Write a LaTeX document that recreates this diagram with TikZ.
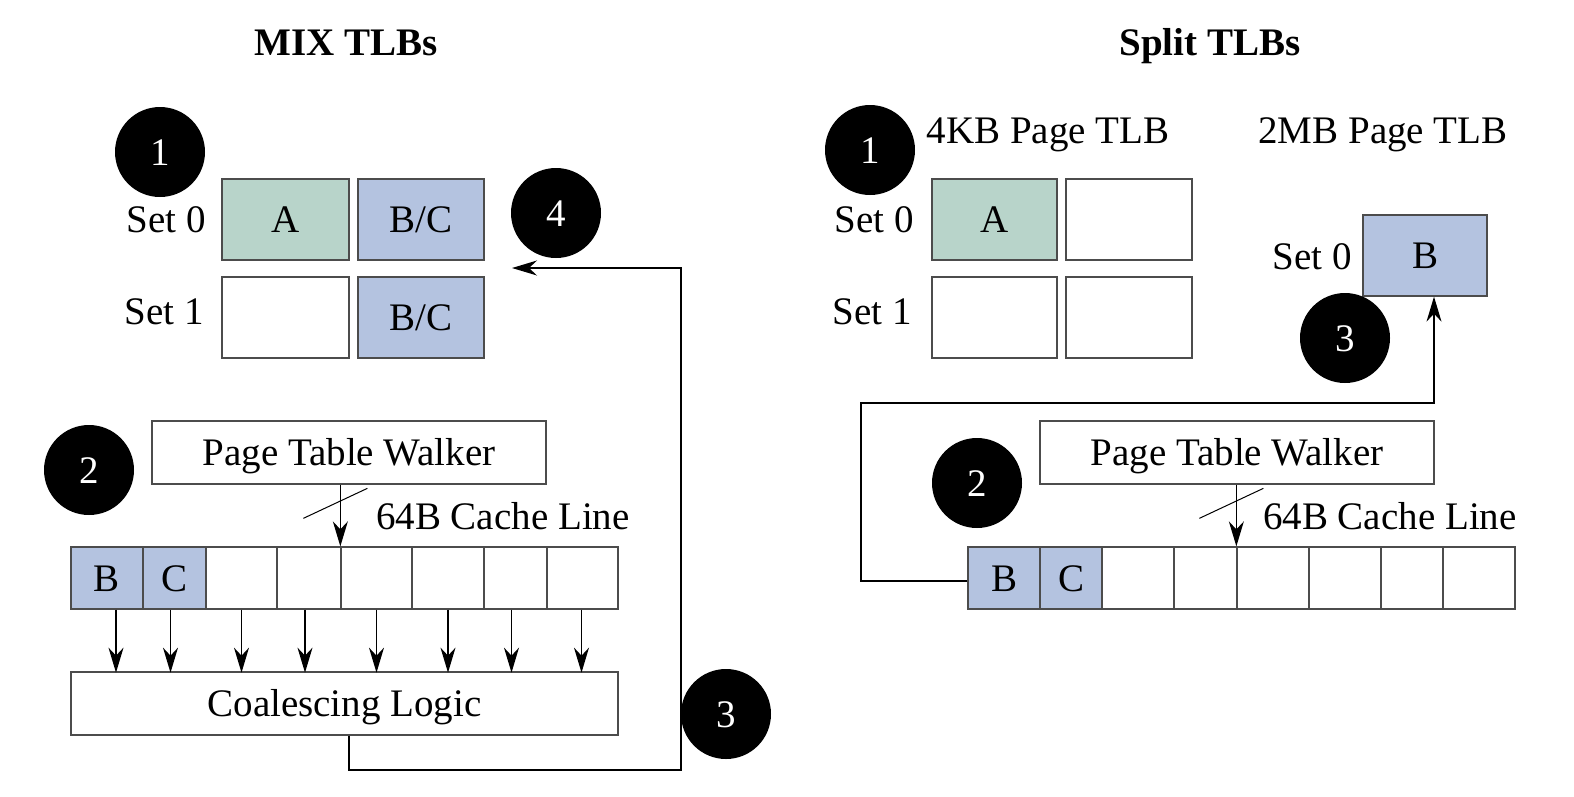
\documentclass[tikz,border=0pt]{standalone}
\usepackage{fontspec}
\setmainfont{Liberation Serif}
\usetikzlibrary{arrows.meta,calc}
\definecolor{tlbgreen}{RGB}{184,212,202}
\definecolor{tlbblue}{RGB}{180,195,224}
\begin{document}
\begin{tikzpicture}[x=1pt,y=-1pt,
  font=\fontsize{39}{44}\selectfont,
  every node/.append style={text height=26pt, text depth=0pt},
  tlb/.style={draw=black!70, line width=1.3pt, minimum height=81pt, inner sep=0pt},
  cellc/.style={draw=black!70, line width=1.3pt, minimum height=62pt, inner sep=0pt},
  wide/.style={draw=black!70, line width=1.3pt, minimum height=63pt, inner sep=0pt},
  num/.style={circle, fill=black, minimum size=90pt, inner sep=0pt, text=white},
  lbl/.style={inner sep=0pt},
  ttl/.style={inner sep=0pt, font=\fontsize{39}{44}\selectfont\bfseries},
  arr/.style={-{Stealth[length=25pt,width=15pt,inset=8pt]}, line width=1.3pt, draw=black},
  slash/.style={line width=1pt, draw=black}]
\useasboundingbox (0,0) rectangle (1574,796);

% ---------- left: MIX TLBs ----------
\node[ttl] (ltitle) at (346,42) {MIX TLBs};
\node[num] (l1) at (160,152) {1};
\node[lbl, anchor=east] (ls0) at (206,219) {Set 0};
\node[lbl, anchor=east] (ls1) at (204,311) {Set 1};
\node[tlb, fill=tlbgreen, minimum width=127pt] (lA) at (285.5,219.5) {A};
\node[tlb, fill=tlbblue, minimum width=126pt] (lBC0) at (421,219.5) {B/C};
\node[tlb, fill=white, minimum width=127pt] (lE1) at (285.5,317.5) {};
\node[tlb, fill=tlbblue, minimum width=126pt] (lBC1) at (421,317.5) {B/C};
\node[num] (l4) at (556,213) {4};

\node[num] (l2) at (89,470) {2};
\node[wide, minimum width=394pt] (lptw) at (349,452.5) {Page Table Walker};
\node[lbl, anchor=west] (lcl) at (376,516) {64B Cache Line};

\node[cellc, fill=tlbblue, minimum width=72pt] (lc1) at (107,578) {B};
\node[cellc, fill=tlbblue, minimum width=63pt] (lc2) at (174.5,578) {C};
\node[cellc, minimum width=71pt] (lc3) at (241.5,578) {};
\node[cellc, minimum width=64pt] (lc4) at (309,578) {};
\node[cellc, minimum width=71pt] (lc5) at (376.5,578) {};
\node[cellc, minimum width=72pt] (lc6) at (448,578) {};
\node[cellc, minimum width=63pt] (lc7) at (515.5,578) {};
\node[cellc, minimum width=71pt] (lc8) at (582.5,578) {};

\node[wide, minimum width=547pt] (lcoal) at (344.5,703.5) {Coalescing Logic};
\node[num] (l3) at (726,714) {3};

\draw[arr] (lptw.south -| lc5.north west) -- (lc5.north west);
\draw[slash] ($(lc5.north west)+(-37,-28)$) -- ($(lc5.north west)+(27,-58)$);
\foreach \n/\d in {1/9,2/-4,3/0,4/-4,5/0,6/0,7/-4,8/-1}
  \draw[arr] ([xshift=\d pt]lc\n.south) -- ++(0,63);

\coordinate (lx) at (349,0);
\coordinate (lcorner) at (681,770);
\coordinate (ltip) at (512,268);
\draw[arr] (lcoal.south -| lx) |- (lcorner) |- (ltip);

% ---------- right: Split TLBs ----------
\node[ttl] (rtitle) at (1210,42) {Split TLBs};
\node[num] (r1) at (870,150) {1};
\node[lbl] (r4kb) at (1048,130) {4KB Page TLB};
\node[lbl] (r2mb) at (1383,130) {2MB Page TLB};
\node[lbl, anchor=east] (rs0) at (914,219) {Set 0};
\node[lbl, anchor=east] (rs1) at (912,311) {Set 1};
\node[tlb, fill=tlbgreen, minimum width=125pt] (rA) at (994.5,219.5) {A};
\node[tlb, fill=white, minimum width=126pt] (rE0) at (1129,219.5) {};
\node[tlb, fill=white, minimum width=125pt] (rE10) at (994.5,317.5) {};
\node[tlb, fill=white, minimum width=126pt] (rE11) at (1129,317.5) {};
\node[lbl, anchor=east] (rs2) at (1352,256) {Set 0};
\node[tlb, fill=tlbblue, minimum width=124pt] (rB) at (1425,255.5) {B};
\node[num] (r3) at (1345,338) {3};

\node[num] (r2) at (977,483) {2};
\node[wide, minimum width=394pt] (rptw) at (1237,452.5) {Page Table Walker};
\node[lbl, anchor=west] (rcl) at (1263,516) {64B Cache Line};

\node[cellc, fill=tlbblue, minimum width=72pt] (rc1) at (1004,578) {B};
\node[cellc, fill=tlbblue, minimum width=62pt] (rc2) at (1071,578) {C};
\node[cellc, minimum width=72pt] (rc3) at (1138,578) {};
\node[cellc, minimum width=63pt] (rc4) at (1205.5,578) {};
\node[cellc, minimum width=72pt] (rc5) at (1273,578) {};
\node[cellc, minimum width=72pt] (rc6) at (1345,578) {};
\node[cellc, minimum width=62pt] (rc7) at (1412,578) {};
\node[cellc, minimum width=72pt] (rc8) at (1479,578) {};

\draw[arr] (rptw.south -| rc5.north west) -- (rc5.north west);
\draw[slash] ($(rc5.north west)+(-37,-28)$) -- ($(rc5.north west)+(27,-58)$);

\coordinate (rtop) at (861,403);
\draw[arr] ([yshift=-3pt]rc1.west) -| (rtop) -| ([xshift=9pt]rB.south);
\end{tikzpicture}
\end{document}
